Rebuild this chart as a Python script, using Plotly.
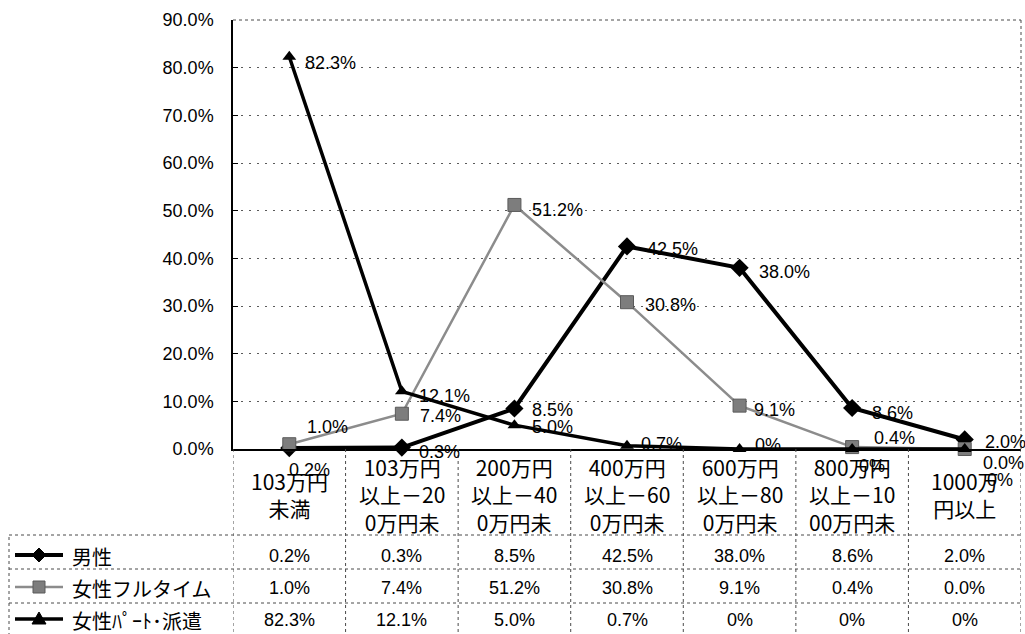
import plotly.graph_objects as go

# ---- data -------------------------------------------------------------
categories = [
    "103万円未満",
    "103万円以上－200万円未満",
    "200万円以上－400万円未満",
    "400万円以上－600万円未満",
    "600万円以上－800万円未満",
    "800万円以上－1000万円未満",
    "1000万円以上",
]
# category text as it wraps (and is cut) inside the narrow columns
category_lines = [
    ["103万円", "未満"],
    ["103万円", "以上－20", "0万円未"],
    ["200万円", "以上－40", "0万円未"],
    ["400万円", "以上－60", "0万円未"],
    ["600万円", "以上－80", "0万円未"],
    ["800万円", "以上－10", "00万円未"],
    ["1000万", "円以上"],
]
series_names = ["男性", "女性フルタイム", "女性ﾊﾟｰﾄ･派遣"]
male = [0.2, 0.3, 8.5, 42.5, 38.0, 8.6, 2.0]
female_full = [1.0, 7.4, 51.2, 30.8, 9.1, 0.4, 0.0]
female_part = [82.3, 12.1, 5.0, 0.7, 0.0, 0.0, 0.0]
y_ticks = [0, 10, 20, 30, 40, 50, 60, 70, 80, 90]

# ---- styling ----------------------------------------------------------
NUM_FONT = "Liberation Sans, Arial, sans-serif"
JP_FONT = "Noto Sans CJK JP, sans-serif"

# plot-area pixel box
L, R, T, B = 233, 1021, 20, 449
W, H = 1025, 634


def xp(px):
    return (px - L) / (R - L)


def yp(py):
    return (B - py) / (B - T)


def fmt(v, short_zero=False):
    if short_zero and v == 0:
        return "0%"
    return f"{v:.1f}%"


series = [
    dict(name=series_names[0], values=male, short_zero=False,
         line=dict(color="#000000", width=4),
         marker=dict(symbol="diamond", size=14, color="#000000"),
         dx=[-2, 15, 16, 18, 17, 18, 18],
         dy=[22, 4, 2, 3, 4, 5, 3]),
    dict(name=series_names[1], values=female_full, short_zero=False,
         line=dict(color="#8c8c8c", width=2.5),
         marker=dict(symbol="square", size=13, color="#7d7d7d",
                     line=dict(color="#5a5a5a", width=1)),
         dx=[16, 16, 16, 16, 12, 20, 16],
         dy=[-17, 2, 5, 3, 4, -9, 14]),
    dict(name=series_names[2], values=female_part, short_zero=True,
         line=dict(color="#000000", width=3.5),
         marker=dict(symbol="triangle-up", size=12, color="#000000"),
         dx=[14, 15, 16, 12, 13, 5, 20],
         dy=[6, 5, 2, -2, -4, 17, 31]),
]

x_idx = list(range(len(categories)))

fig = go.Figure()
for s in series:
    fig.add_trace(go.Scatter(
        x=x_idx, y=s["values"], name=s["name"], mode="lines+markers",
        line=s["line"], marker=s["marker"], cliponaxis=False,
        customdata=categories,
        hovertemplate="%{customdata}: %{y:.1f}%<extra>%{fullData.name}</extra>",
    ))

annotations = []
# point labels
for s in series:
    for i, v in enumerate(s["values"]):
        annotations.append(dict(
            x=i, y=v, xref="x", yref="y", text=fmt(v, s["short_zero"]),
            showarrow=False, xanchor="left", yanchor="middle",
            xshift=s["dx"][i], yshift=-s["dy"][i],
            font=dict(family=NUM_FONT, size=18, color="#000000"),
        ))

# category labels, vertically centred in the label band
for i, lines in enumerate(category_lines):
    annotations.append(dict(
        x=i, y=yp(495), xref="x", yref="paper", text="<br>".join(lines),
        showarrow=False, xanchor="center", yanchor="middle", align="center",
        font=dict(family=JP_FONT, size=21, color="#000000"),
    ))

# data table rows
row_y = [556, 588, 620]
for r, s in enumerate(series):
    annotations.append(dict(
        x=xp(70), y=yp(row_y[r]), xref="paper", yref="paper", text=s["name"],
        showarrow=False, xanchor="left", yanchor="middle",
        font=dict(family=JP_FONT, size=20, color="#000000"),
    ))
    for i, v in enumerate(s["values"]):
        annotations.append(dict(
            x=i, y=yp(row_y[r]), xref="x", yref="paper", text=fmt(v, s["short_zero"]),
            showarrow=False, xanchor="center", yanchor="middle",
            font=dict(family=NUM_FONT, size=18, color="#000000"),
        ))

shapes = []
grid_line = dict(color="#4a4a4a", width=1, dash="dot")
# dotted top and right border of the plot area
shapes.append(dict(type="line", xref="paper", yref="paper", x0=0, x1=1, y0=1, y1=1, line=grid_line))
shapes.append(dict(type="line", xref="paper", yref="paper", x0=1, x1=1, y0=0, y1=1, line=grid_line))
# table grid: horizontal rules
for py in [535, 569, 603]:
    shapes.append(dict(type="line", xref="paper", yref="paper",
                       x0=xp(9), x1=1, y0=yp(py), y1=yp(py), line=grid_line))
# table grid: left border and column separators
shapes.append(dict(type="line", xref="paper", yref="paper",
                   x0=xp(9), x1=xp(9), y0=yp(537), y1=yp(634), line=grid_line))
for k in range(len(categories) + 1):
    shapes.append(dict(type="line", xref="x", yref="paper",
                       x0=k - 0.5, x1=k - 0.5, y0=0, y1=yp(634), line=grid_line))

# legend keys in the table
key_x0, key_x1, key_cx = 15, 63, 39
for r, s in enumerate(series):
    cy = row_y[r] - 1
    shapes.append(dict(type="line", xref="paper", yref="paper",
                       x0=xp(key_x0), x1=xp(key_x1), y0=yp(cy), y1=yp(cy),
                       line=dict(color=s["line"]["color"], width=s["line"]["width"])))
    sym = s["marker"]["symbol"]
    col = s["marker"]["color"]
    if sym == "diamond":
        h = 7
        path = (f"M {xp(key_cx - h)} {yp(cy)} L {xp(key_cx)} {yp(cy - h)} "
                f"L {xp(key_cx + h)} {yp(cy)} L {xp(key_cx)} {yp(cy + h)} Z")
        shapes.append(dict(type="path", xref="paper", yref="paper", path=path,
                           fillcolor=col, line=dict(color=col, width=1)))
    elif sym == "square":
        h = 6
        shapes.append(dict(type="rect", xref="paper", yref="paper",
                           x0=xp(key_cx - h), x1=xp(key_cx + h), y0=yp(cy + h), y1=yp(cy - h),
                           fillcolor=col, line=dict(color="#5a5a5a", width=1)))
    else:
        h = 7
        path = (f"M {xp(key_cx - h)} {yp(cy + 5)} L {xp(key_cx)} {yp(cy - 7)} "
                f"L {xp(key_cx + h)} {yp(cy + 5)} Z")
        shapes.append(dict(type="path", xref="paper", yref="paper", path=path,
                           fillcolor=col, line=dict(color=col, width=1)))

fig.update_layout(
    width=W, height=H,
    margin=dict(l=L, r=W - R, t=T, b=H - B, pad=0),
    paper_bgcolor="#ffffff", plot_bgcolor="#ffffff",
    showlegend=False,
    annotations=annotations,
    shapes=shapes,
    xaxis=dict(
        range=[-0.5, len(categories) - 0.5], showticklabels=False, ticks="",
        showgrid=False, zeroline=False,
        showline=True, linecolor="#000000", linewidth=2,
    ),
    yaxis=dict(
        range=[0, 90], tickmode="array", tickvals=y_ticks,
        ticktext=[f"{v:.1f}%" for v in y_ticks],
        ticks="inside", ticklen=5, tickcolor="#000000",
        ticklabelstandoff=14,
        tickfont=dict(family=NUM_FONT, size=18, color="#000000"),
        showgrid=True, gridcolor="#5a5a5a", gridwidth=1, griddash="2px,6px",
        zeroline=False, showline=True, linecolor="#000000", linewidth=1.5,
    ),
)

fig.write_html("out.html")
